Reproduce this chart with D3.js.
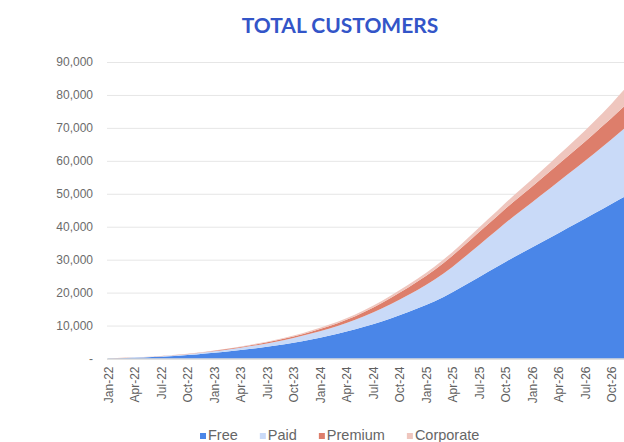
<!DOCTYPE html>
<html>
<head>
<meta charset="utf-8">
<script src="https://cdn.jsdelivr.net/npm/d3@7"></script>
<style>
  body { margin: 0; background: #fff; }
  svg { display: block; }
</style>
</head>
<body>
<div id="chart"></div>
<script>
// monthly categories, Jan-22 .. Dec-26
const months = [
  "Jan-22","Feb-22","Mar-22","Apr-22","May-22","Jun-22","Jul-22","Aug-22","Sep-22","Oct-22","Nov-22","Dec-22",
  "Jan-23","Feb-23","Mar-23","Apr-23","May-23","Jun-23","Jul-23","Aug-23","Sep-23","Oct-23","Nov-23","Dec-23",
  "Jan-24","Feb-24","Mar-24","Apr-24","May-24","Jun-24","Jul-24","Aug-24","Sep-24","Oct-24","Nov-24","Dec-24",
  "Jan-25","Feb-25","Mar-25","Apr-25","May-25","Jun-25","Jul-25","Aug-25","Sep-25","Oct-25","Nov-25","Dec-25",
  "Jan-26","Feb-26","Mar-26","Apr-26","May-26","Jun-26","Jul-26","Aug-26","Sep-26","Oct-26","Nov-26","Dec-26"
];

const free = [
  50, 90, 150, 220, 310, 420, 550, 690, 850, 1030, 1240, 1480,
  1740, 2000, 2280, 2580, 2900, 3220, 3560, 3920, 4330, 4780, 5260, 5780,
  6330, 6910, 7520, 8170, 8860, 9600, 10400, 11250, 12150, 13100, 14100, 15150,
  16250, 17400, 18700, 20100, 21600, 23150, 24700, 26250, 27800, 29300, 30800, 32250,
  33700, 35150, 36600, 38050, 39500, 40950, 42400, 43900, 45400, 46900, 48400, 49900
];
const paid = [
  10, 20, 35, 55, 80, 110, 145, 185, 230, 280, 335, 395,
  460, 530, 610, 700, 800, 910, 1030, 1160, 1300, 1450, 1610, 1780,
  1960, 2150, 2350, 2600, 2900, 3250, 3600, 3950, 4350, 4750, 5150, 5600,
  6050, 6550, 7100, 7700, 8350, 9000, 9700, 10400, 11050, 11800, 12450, 13050,
  13650, 14300, 14950, 15600, 16250, 16900, 17550, 18200, 18900, 19600, 20350, 21100
];
const premium = [
  0, 5, 10, 15, 25, 35, 45, 60, 75, 90, 110, 130,
  150, 175, 200, 230, 260, 295, 335, 370, 410, 460, 520, 590,
  670, 760, 860, 970, 1100, 1250, 1420, 1620, 1850, 2080, 2310, 2540,
  2770, 2990, 3190, 3380, 3560, 3730, 3890, 4040, 4190, 4340, 4490, 4650,
  4810, 4970, 5140, 5310, 5490, 5670, 5860, 6050, 6250, 6450, 6660, 6880
];
const corporate = [
  0, 0, 5, 10, 15, 20, 25, 30, 40, 50, 60, 70,
  85, 100, 115, 130, 150, 170, 190, 215, 240, 270, 300, 330,
  360, 395, 430, 470, 510, 555, 600, 650, 700, 750, 800, 855,
  910, 970, 1030, 1100, 1180, 1270, 1370, 1480, 1600, 1730, 1870, 2020,
  2180, 2350, 2530, 2720, 2920, 3130, 3350, 3600, 3900, 4300, 4850, 5450
];

const seriesNames = ["Free", "Paid", "Premium", "Corporate"];
const seriesColors = ["#4a86e8", "#c9daf8", "#dd7e6b", "#efc6be"];
const yTicks = [0, 10000, 20000, 30000, 40000, 50000, 60000, 70000, 80000, 90000];

const width = 624, height = 442;
const margin = { top: 62, right: 0, bottom: 83.5, left: 107 };
const plotBottom = height - margin.bottom;

const rows = months.map((m, i) => ({
  month: m, Free: free[i], Paid: paid[i], Premium: premium[i], Corporate: corporate[i]
}));

const x = d3.scalePoint()
  .domain(months)
  .range([108, 108 + 8.83 * (months.length - 1)]);

const y = d3.scaleLinear()
  .domain([0, 90000])
  .range([plotBottom, margin.top]);

const layers = d3.stack().keys(seriesNames)(rows);

const svg = d3.select("#chart").append("svg")
  .attr("width", width)
  .attr("height", height)
  .attr("viewBox", [0, 0, width, height]);

// title
svg.append("text")
  .attr("x", 340)
  .attr("y", 33)
  .attr("text-anchor", "middle")
  .style("font-family", "Lato, 'Open Sans', sans-serif")
  .style("font-weight", "bold")
  .style("font-size", "21px")
  .style("fill", "#3355c8")
  .text("TOTAL CUSTOMERS");

// gridlines + y labels
const yAxis = g => g
  .attr("transform", `translate(${margin.left},0)`)
  .call(d3.axisLeft(y).tickValues(yTicks).tickSize(-(width - margin.left))
    .tickFormat(d => d === 0 ? "-" : d3.format(",")(d)))
  .call(g => g.select(".domain").remove())
  .call(g => g.selectAll(".tick line").attr("stroke", "#e6e6e6"))
  .call(g => g.selectAll(".tick text")
    .attr("x", -14)
    .style("font-family", "'Liberation Sans', Arial, sans-serif")
    .style("font-size", "12px")
    .style("fill", "#6b6b6b"));

svg.append("g").call(yAxis);

// stacked areas
const area = d3.area()
  .x(d => x(d.data.month))
  .y0(d => y(d[0]))
  .y1(d => y(d[1]));

svg.append("g")
  .selectAll("path")
  .data(layers)
  .join("path")
    .attr("fill", (d, i) => seriesColors[i])
    .attr("d", area);

// x axis labels (every 3rd month)
const xAxis = g => g
  .attr("transform", `translate(0,${plotBottom})`)
  .call(d3.axisBottom(x).tickValues(months.filter((m, i) => i % 3 === 0)).tickSize(0))
  .call(g => g.select(".domain").attr("stroke", "#d0d0d0").attr("d", `M${margin.left},0.5H${width}`))
  .call(g => g.selectAll(".tick text")
    .attr("transform", "rotate(-90)")
    .attr("text-anchor", "end")
    .attr("x", -8)
    .attr("y", 0)
    .attr("dy", "0.35em")
    .style("font-family", "'Liberation Sans', Arial, sans-serif")
    .style("font-size", "12px")
    .style("fill", "#5f5f5f"));

svg.append("g").call(xAxis);

// legend
const legend = svg.append("g").attr("transform", "translate(200,440)");
let lx = 0;
seriesNames.forEach((name, i) => {
  legend.append("rect")
    .attr("x", lx).attr("y", -7)
    .attr("width", 6).attr("height", 6)
    .attr("fill", seriesColors[i]);
  const t = legend.append("text")
    .attr("x", lx + 8).attr("y", 0)
    .style("font-family", "'Liberation Sans', Arial, sans-serif")
    .style("font-size", "14.5px")
    .style("fill", "#666")
    .text(name);
  lx += 8 + t.node().getComputedTextLength() + 22;
});
</script>
</body>
</html>
